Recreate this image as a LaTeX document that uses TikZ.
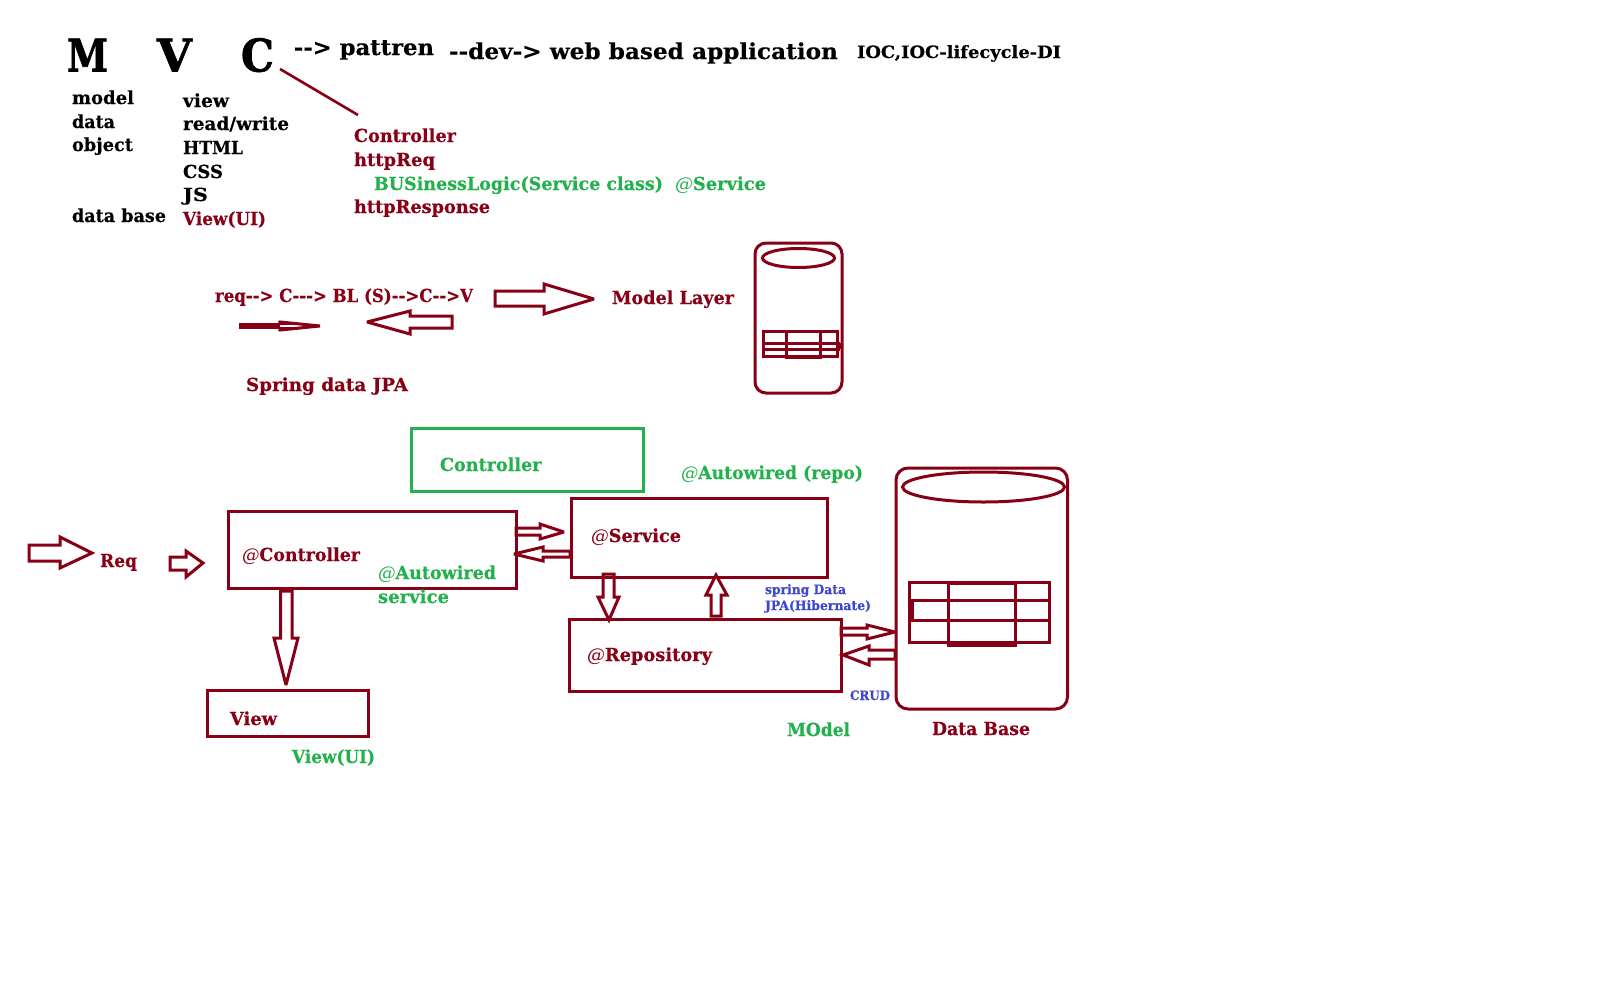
\documentclass[tikz,border=0pt]{standalone}
\usepackage{fontspec}
\usepackage{graphicx}
\setmainfont{DejaVu Serif}[BoldFeatures={FakeBold=0.3}]
\newfontfamily\heavyfont{DejaVu Serif Bold}[FakeBold=1.6]
\definecolor{maroon}{HTML}{880015}
\definecolor{pgreen}{HTML}{22B14C}
\definecolor{pblue}{HTML}{3F48CC}
\tikzset{
  label text/.style={anchor=base west,inner sep=0pt,outer sep=0pt},
  boxline/.style={draw=maroon,line width=3pt,line join=miter,outer sep=0pt},
  greenbox/.style={draw=pgreen,line width=3pt,outer sep=0pt},
  blockarrow/.style={draw=maroon,line width=3pt,line join=miter,miter limit=3},
  cyl/.style={draw=maroon,line width=3pt,rounded corners=11pt},
  tbl/.style={draw=maroon,line width=3pt},
  link/.style={draw=maroon,line width=2.6pt}
}
% name, x, baseline y, width, size, colour, text
\newcommand\Tx[7]{\node[label text,text=#6] (#1) at (#2,#3)
  {\resizebox{#4pt}{\height}{\fontsize{#5}{#5}\selectfont\bfseries #7}};}
\newcommand\Hv[6]{\node[label text,text=#6] (#1) at (#2,#3)
  {\resizebox{#4pt}{\height}{\fontsize{#5}{#5}\selectfont\heavyfont #1}};}
\newcommand\At{{\mdseries\itshape @}}
% horizontal block arrow: tail x, y1, y2, base x, top, bottom, tip x, tip y
\newcommand\HArrow[8]{\draw[blockarrow] (#1,#2) -- (#4,#2) -- (#4,#5) -- (#7,#8) -- (#4,#6) -- (#4,#3) -- (#1,#3) -- cycle;}
% vertical block arrow: tail y, x1, x2, base y, left, right, tip x, tip y
\newcommand\VArrow[8]{\draw[blockarrow] (#2,#1) -- (#2,#4) -- (#5,#4) -- (#7,#8) -- (#6,#4) -- (#3,#4) -- (#3,#1) -- cycle;}
\begin{document}
\begin{tikzpicture}[x=1pt,y=-1pt]
\useasboundingbox (0,0) rectangle (1600,991);
\fill[white] (0,0) rectangle (1600,991);

% heading
\Hv{M}{67}{71.5}{41}{45}{black}
\Hv{V}{157}{71.5}{35}{45}{black}
\Hv{C}{241}{71.5}{33}{45}{black}
\Tx{pat}{294}{55}{140}{22}{black}{-{}-> pattren}
\Tx{dev}{449}{59}{389}{22}{black}{-{}-dev-> web based application}
\Tx{ioc}{857}{58}{204}{17}{black}{IOC,IOC-lifecycle-DI}

% columns
\Tx{c1a}{72}{104}{62}{18}{black}{model}
\Tx{c1b}{72}{128}{43}{18}{black}{data}
\Tx{c1c}{72}{151}{61}{18}{black}{object}
\Tx{c1d}{72}{222}{94}{18}{black}{data base}
\Tx{c2a}{183}{107}{46}{18}{black}{view}
\Tx{c2b}{183}{130}{106}{18}{black}{read/write}
\Tx{c2c}{183}{154}{60}{18}{black}{HTML}
\Tx{c2d}{183}{178}{40}{18}{black}{CSS}
\Tx{c2e}{183}{201}{25}{18}{black}{JS}
\Tx{c2f}{183}{225}{83}{18}{maroon}{View(UI)}
\Tx{c3a}{354}{142}{102}{18}{maroon}{Controller}
\Tx{c3b}{354}{166}{81}{18}{maroon}{httpReq}
\Tx{c3c}{374}{190}{289}{18}{pgreen}{BUSinessLogic(Service class)}
\Tx{c3d}{675}{190}{91}{18}{pgreen}{\At Service}
\Tx{c3e}{354}{213}{136}{18}{maroon}{httpResponse}
\coordinate (cs) at (280,69);
\coordinate (ce) at (358,115);
\draw[link] (cs) -- (ce);

% flow line
\Tx{flow}{215}{302}{258}{18}{maroon}{req-{}-> C-{}-{}-> BL (S)-{}->C-{}->V}
\Tx{mlayer}{612}{304}{122}{18}{maroon}{Model Layer}
\Tx{jpa}{246}{391}{162}{18}{maroon}{Spring data JPA}
\HArrow{495}{291}{306}{544}{284}{314}{594}{299}
\HArrow{452}{316}{328}{410}{311}{334}{367}{322}
\draw[draw=maroon,line width=5.5pt] (239,326) -- (280,326);
\draw[draw=maroon,line width=3pt,line join=miter] (279,323) -- (280,322) -- (320,326) -- (280,330) -- (279,329);
\draw[draw=maroon,line width=2pt] (280,324) -- (301,324);
\draw[draw=maroon,line width=2pt] (280,328) -- (301,328);

% small cylinder
\draw[cyl] (755,243) rectangle (842,393);
\draw[tbl] (798.5,258) ellipse [x radius=36,y radius=9.5];
\draw[tbl] (763,331) rectangle (837,356);
\draw[tbl] (786,331) rectangle (820,357);
\draw[tbl] (763,343) -- (840,343);
\draw[tbl] (763,349) -- (840,349);
\draw[tbl] (839,343) -- (839,349);

% lower diagram
\node[greenbox,anchor=north west,inner sep=0pt,minimum width=232pt,minimum height=63pt] (ctrlg) at (411,428) {};
\Tx{ctrlgt}{440}{471}{101.5}{18}{pgreen}{Controller}

\node[boxline,anchor=north west,inner sep=0pt,minimum width=288pt,minimum height=77pt] (ctrl) at (228,511) {};
\Tx{ctrlt}{242}{561}{118}{18}{maroon}{\At Controller}
\Tx{aw}{378}{579}{118}{18}{pgreen}{\At Autowired}
\Tx{aws}{378}{603}{71}{18}{pgreen}{service}

\HArrow{29}{545}{561}{60}{537}{568}{92}{553}
\Tx{req}{100}{567}{37}{18}{maroon}{Req}
\HArrow{170}{557}{570}{186}{551}{577}{203}{563}

\VArrow{591}{280.5}{292}{638}{274}{298}{286}{685}
\node[boxline,anchor=north west,inner sep=0pt,minimum width=161pt,minimum height=46pt] (view) at (207,690) {};
\Tx{viewt}{230}{725}{47}{18}{maroon}{View}
\Tx{viewui}{292}{763}{83}{18}{pgreen}{View(UI)}

\HArrow{516}{528}{535}{540}{524}{539}{564}{532}
\HArrow{570}{551}{557}{543}{547}{561}{514}{554}

\node[boxline,anchor=north west,inner sep=0pt,minimum width=255.5pt,minimum height=79pt] (svc) at (571.5,498) {};
\Tx{svct}{591}{542}{90}{18}{maroon}{\At Service}
\Tx{awr}{681}{479}{182}{18}{pgreen}{\At Autowired (repo)}

\VArrow{574}{603}{614}{597}{598}{619}{609}{620}
\VArrow{616}{711}{721}{595}{706}{727}{716}{575}
\Tx{sd}{765}{594}{81}{13}{pblue}{spring Data}
\Tx{sdj}{765}{610}{106}{13}{pblue}{JPA(Hibernate)}

\node[boxline,anchor=north west,inner sep=0pt,minimum width=272pt,minimum height=72pt] (repo) at (569,619) {};
\Tx{repot}{587}{661}{125}{18}{maroon}{\At Repository}
\HArrow{841}{628}{635}{867}{625}{639}{895}{632}
\HArrow{895}{650}{659}{869}{646}{665}{843}{655}
\Tx{crud}{850}{700}{40}{13}{pblue}{CRUD}
\Tx{mod}{787}{736}{63}{18}{pgreen}{MOdel}
\Tx{dbt}{932}{735}{98}{18}{maroon}{Data Base}

% large cylinder
\draw[cyl,rounded corners=12pt] (896,468) rectangle (1067.5,709);
\draw[tbl] (983.5,487) ellipse [x radius=81,y radius=15];
\draw[tbl] (909,582) rectangle (1049,642);
\draw[tbl] (948,583) rectangle (1015,645);
\draw[tbl] (909,600) -- (1049,600);
\draw[tbl] (909,620) -- (1049,620);
\draw[tbl] (912,600) -- (912,620);
\end{tikzpicture}
\end{document}
